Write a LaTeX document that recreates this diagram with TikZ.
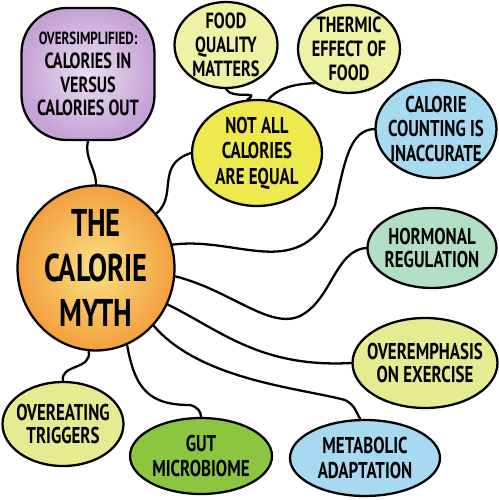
\documentclass[tikz,border=0pt]{standalone}
\usepackage{fontspec}
\setmainfont{PT Sans}[FakeStretch=0.74]
\usetikzlibrary{shapes.geometric}
\definecolor{lilac}{HTML}{C6A3D7}
\definecolor{lilacsoft}{HTML}{EADDF1}
\definecolor{mythedge}{HTML}{F4A03E}
\definecolor{mythcore}{HTML}{F9E084}
\definecolor{paleyellow}{HTML}{EFF1A4}
\definecolor{lemon}{HTML}{EDE94F}
\definecolor{skyblue}{HTML}{A7D9F1}
\definecolor{mint}{HTML}{B2DEC2}
\definecolor{limey}{HTML}{E6EB92}
\definecolor{grass}{HTML}{8CC641}
\tikzset{
  bubble/.style = {ellipse, draw=black, line width=1.3pt, align=center, inner sep=-5pt,
                   text=black, font=\fontsize{12.5}{13.5}\selectfont\bfseries},
  squarish/.style = {rectangle, rounded corners=0.9cm, draw=black, line width=1.3pt,
                   align=center, inner sep=2pt, text=black, font=\fontsize{12.5}{13.6}\selectfont\bfseries},
  link/.style   = {draw=black, line width=1.3pt, line cap=round},
}
\begin{document}
\begin{tikzpicture}[x=0.02cm,y=-0.02cm]
    \useasboundingbox (0,0) rectangle (499,500);
    \node[squarish,shading=radial,inner color=lilacsoft,outer color=lilac,minimum width=2.66cm,minimum height=2.64cm] (cico) at (88,74)
      {{\fontsize{10}{11}\selectfont OVERSIMPLIFIED:}\\CALORIES IN\\VERSUS\\CALORIES OUT};
    \node[bubble,fill=paleyellow,minimum width=2.06cm,minimum height=1.72cm] (quality) at (226,45) {FOOD\\QUALITY\\MATTERS};
    \node[bubble,fill=paleyellow,minimum width=2.04cm,minimum height=1.76cm] (thermic) at (349,49) {THERMIC\\EFFECT OF\\FOOD};
    \node[bubble,fill=lemon,minimum width=2.6cm,minimum height=2.12cm,font=\fontsize{13}{14.5}\selectfont\bfseries] (notall) at (257,153) {NOT ALL\\CALORIES\\ARE EQUAL};
    \node[bubble,fill=skyblue,minimum width=2.42cm,minimum height=1.96cm,font=\fontsize{13}{14}\selectfont\bfseries] (counting) at (436,129) {CALORIE\\COUNTING IS\\INACCURATE};
    \node[bubble,fill=mint,minimum width=2.58cm,minimum height=1.6cm,font=\fontsize{13}{13.5}\selectfont\bfseries] (hormonal) at (432,248) {HORMONAL\\REGULATION};
    \node[bubble,shading=radial,inner color=mythcore,outer color=mythedge,minimum width=3.14cm,minimum height=3.3cm,font=\fontsize{22}{25.5}\selectfont\bfseries] (myth) at (96,268) {THE\\CALORIE\\MYTH};
    \node[bubble,fill=limey,minimum width=2.9cm,minimum height=1.8cm,font=\fontsize{13}{13.5}\selectfont\bfseries] (exercise) at (425,363) {OVEREMPHASIS\\ON EXERCISE};
    \node[bubble,fill=limey,minimum width=2.42cm,minimum height=1.68cm,font=\fontsize{13}{13.5}\selectfont\bfseries] (overeat) at (63,424) {OVEREATING\\TRIGGERS};
    \node[bubble,fill=grass,minimum width=2.84cm,minimum height=1.52cm,font=\fontsize{13}{14}\selectfont\bfseries] (gut) at (201,456) {GUT\\MICROBIOME};
    \node[bubble,fill=skyblue,minimum width=3.0cm,minimum height=1.52cm,font=\fontsize{13}{14}\selectfont\bfseries] (metabolic) at (365,458) {METABOLIC\\ADAPTATION};
    % wiggly links out of the central bubble
    \draw[link] (cico.south) .. controls (84,158) and (96,168) .. (myth.north);
    \draw[link] (myth.42) .. controls (178,195) and (155,165) .. (notall.west);
    \draw[link] (quality.south) .. controls (232,100) and (262,90) .. (notall.100);
    \draw[link] (thermic.225) .. controls (290,84) and (276,90) .. (notall.78);
    \draw[link] (myth.17) .. controls (240,236) and (300,285) .. (335,205) .. controls (345,160) and (350,130) .. (counting.west);
    \draw[link] (myth.-6) .. controls (230,290) and (270,330) .. (300,316) .. controls (332,300) and (335,250) .. (hormonal.west);
    \draw[link] (myth.-27) .. controls (220,330) and (260,368) .. (exercise.west);
    \draw[link] (myth.-45) .. controls (200,380) and (300,388) .. (345,400) .. controls (355,405) and (356,412) .. (metabolic.97);
    \draw[link] (myth.-68) .. controls (135,390) and (150,405) .. (190,405) .. controls (198,407) and (201,412) .. (gut.north);
    \draw[link] (myth.-95) .. controls (92,370) and (60,364) .. (overeat.north);
  \end{tikzpicture}
\end{document}
